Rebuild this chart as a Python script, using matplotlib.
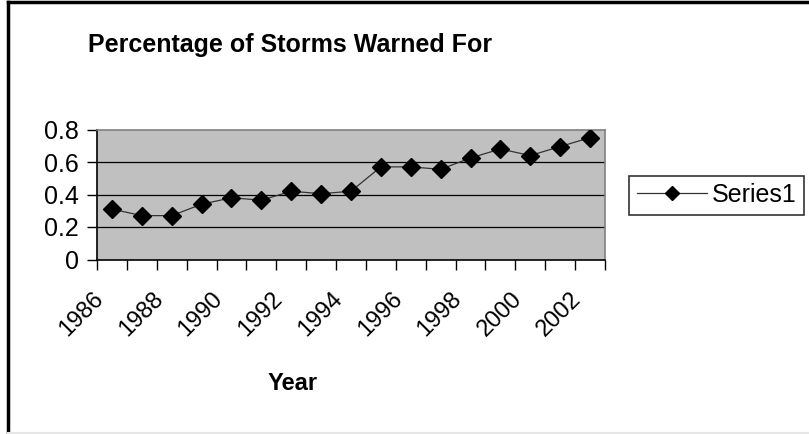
import numpy as np
import matplotlib.pyplot as plt
import matplotlib.transforms as mtransforms
from matplotlib.lines import Line2D

plt.rcParams['font.family'] = ['Liberation Sans', 'DejaVu Sans']

# Fraction of storms warned for, per year
years = [1986, 1987, 1988, 1989, 1990, 1991, 1992, 1993, 1994,
         1995, 1996, 1997, 1998, 1999, 2000, 2001, 2002]
warned = [0.31, 0.27, 0.27, 0.34, 0.38, 0.365, 0.42, 0.405, 0.42,
          0.57, 0.57, 0.555, 0.625, 0.68, 0.64, 0.695, 0.75]
y_ticks = [0, 0.2, 0.4, 0.6, 0.8]
y_labels = ['0', '0.2', '0.4', '0.6', '0.8']

fig = plt.figure(figsize=(8.09, 4.34), dpi=100)
W, H = 809, 434
ax = fig.add_axes([97 / W, (H - 259.5) / H, (605 - 97) / W, (259.5 - 129.5) / H])

x = np.arange(len(years))
ax.set_facecolor('#C0C0C0')
ax.plot(x, warned, color='#333333', linewidth=0.9, marker='D', markersize=9,
        markerfacecolor='black', markeredgecolor='black', label='Series1', zorder=3)

ax.set_xlim(-0.5, len(years) - 0.5)
ax.set_ylim(0, 0.8)
ax.set_yticks(y_ticks)
ax.set_yticklabels(y_labels, fontsize=18)
for yv in y_ticks[1:-1]:
    ax.axhline(yv, color='black', linewidth=0.9, zorder=1)

# ticks between categories, labels on every other year
ax.set_xticks(np.arange(-0.5, len(years), 1.0))
ax.set_xticklabels([])
ax.set_xticks(x[::2], minor=True)
ax.set_xticklabels([str(y) for y in years[::2]], minor=True, fontsize=17,
                   rotation=45, ha='right', va='center', rotation_mode='anchor')
ax.tick_params(axis='x', which='minor', length=0, pad=0)
ax.tick_params(axis='both', which='major', direction='out', length=7, width=1, color='black')
ax.tick_params(axis='y', pad=6)
shift = mtransforms.ScaledTranslation(-0.12, -0.36, fig.dpi_scale_trans)
for lbl in ax.get_xticklabels(minor=True):
    lbl.set_transform(lbl.get_transform() + shift)

for side in ['left', 'bottom']:
    ax.spines[side].set_color('black')
    ax.spines[side].set_linewidth(1.2)
for side in ['top', 'right']:
    ax.spines[side].set_color('#808080')
    ax.spines[side].set_linewidth(1.2)

fig.text(290 / W, 1 - 45 / H, 'Percentage of Storms Warned For', ha='center', va='center',
         fontsize=18, fontweight='bold')
fig.text(293 / W, 1 - 383 / H, 'Year', ha='center', va='center',
         fontsize=17, fontweight='bold')

leg = fig.legend(loc='center left', bbox_to_anchor=(629 / W, 1 - 195 / H), fontsize=18,
                 frameon=True, fancybox=False, edgecolor='black', handlelength=2.8,
                 handletextpad=0.2, borderpad=0.3, borderaxespad=0)
leg.get_frame().set_linewidth(1.2)
leg.legend_handles[0].set_markersize(7)

# chart frame
fig.add_artist(Line2D([8 / W, 8 / W], [0.005, 1 - 2 / H], color='black', linewidth=2.5))
fig.add_artist(Line2D([8 / W, 1.0], [1 - 2 / H, 1 - 2 / H], color='black', linewidth=2.5))
fig.add_artist(Line2D([8 / W, 1.0], [1.5 / H, 1.5 / H], color='#E6E6E6', linewidth=1.5))

fig.savefig('out.png', dpi=100)
